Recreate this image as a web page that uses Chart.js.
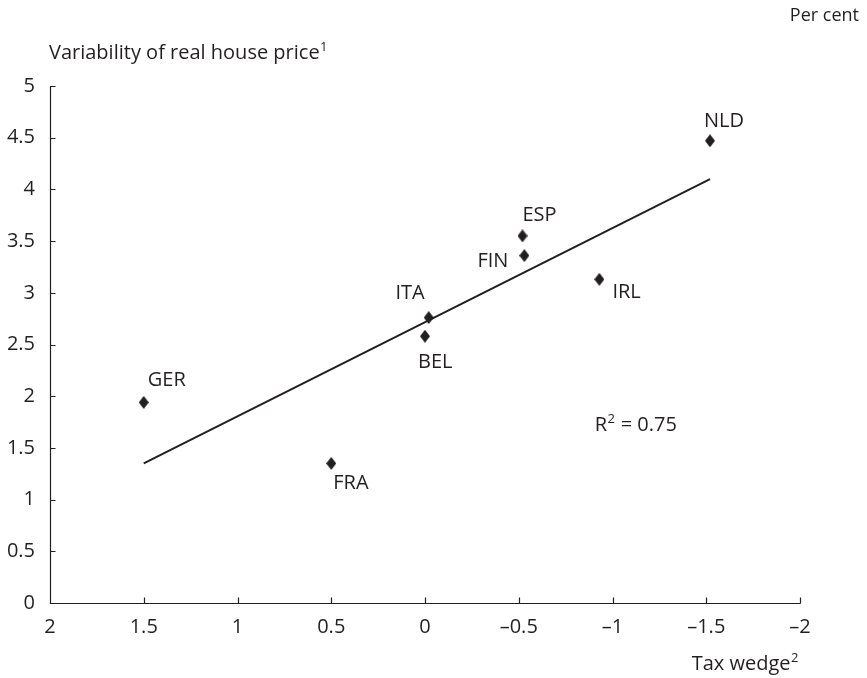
<!DOCTYPE html>
<html>
<head>
<meta charset="utf-8">
<script src="https://cdn.jsdelivr.net/npm/chart.js@4.4.1/dist/chart.umd.min.js"></script>
<style>
  html, body { margin: 0; padding: 0; background: #ffffff; }
  #wrap { width: 867px; height: 678px; position: relative; }
</style>
</head>
<body>
<div id="wrap"><canvas id="chart"></canvas></div>
<script>
// Country observations: tax wedge (x) against variability of real house prices (y)
const countries = ['GER', 'FRA', 'BEL', 'ITA', 'FIN', 'ESP', 'IRL', 'NLD'];
const taxWedge = [1.50, 0.50, 0.00, -0.02, -0.53, -0.52, -0.93, -1.52];
const priceVariability = [1.94, 1.35, 2.58, 2.76, 3.36, 3.55, 3.13, 4.47];

// Fitted regression line end points
const trendX = [1.50, -1.52];
const trendY = [1.35, 4.10];
const rSquared = '0.75';

// Axis ticks
const xTicks = [2, 1.5, 1, 0.5, 0, -0.5, -1, -1.5, -2];
const yTicks = [0, 0.5, 1, 1.5, 2, 2.5, 3, 3.5, 4, 4.5, 5];

// Label placement around each marker (pixel offsets, text alignment)
const labelPlacement = {
  GER: { dx: 4, dy: -22, align: 'left' },
  FRA: { dx: 2, dy: 20, align: 'left' },
  BEL: { dx: -7, dy: 26, align: 'left' },
  ITA: { dx: -4, dy: -24, align: 'right' },
  FIN: { dx: -16, dy: 6, align: 'right' },
  ESP: { dx: 0, dy: -21, align: 'left' },
  IRL: { dx: 13, dy: 13, align: 'left' },
  NLD: { dx: -6, dy: -20, align: 'left' }
};
const rSquaredAt = { x: -0.905, y: 1.72 };

const INK = '#231f20';
const FONT = '"Open Sans", "Noto Sans", sans-serif';
const SIZE = 20;
const SUP = 13;

// Diamond marker, a little taller than wide
function diamond(w, h) {
  const c = document.createElement('canvas');
  c.width = w; c.height = h;
  const g = c.getContext('2d');
  g.fillStyle = INK;
  g.beginPath();
  g.moveTo(w / 2, 0);
  g.lineTo(w, h / 2);
  g.lineTo(w / 2, h);
  g.lineTo(0, h / 2);
  g.closePath();
  g.fill();
  return c;
}

const points = countries.map((c, i) => ({ x: taxWedge[i], y: priceVariability[i], label: c }));
const trend = trendX.map((x, i) => ({ x: x, y: trendY[i] }));

function fmt(v) {
  const a = Math.abs(v).toString();
  return v < 0 ? '\u2013' + a : a;
}

// Text with a small raised superscript; returns total width
function supText(ctx, base, sup, rest, x, y, align) {
  ctx.font = SIZE + 'px ' + FONT;
  const wb = ctx.measureText(base).width;
  const wr = ctx.measureText(rest).width;
  ctx.font = SUP + 'px ' + FONT;
  const ws = ctx.measureText(sup).width + 1;
  const total = wb + ws + wr;
  const sx = align === 'right' ? x - total : x;
  ctx.textAlign = 'left';
  ctx.textBaseline = 'middle';
  ctx.font = SIZE + 'px ' + FONT;
  ctx.fillText(base, sx, y);
  ctx.font = SUP + 'px ' + FONT;
  ctx.fillText(sup, sx + wb + 0.5, y - 6);
  ctx.font = SIZE + 'px ' + FONT;
  ctx.fillText(rest, sx + wb + ws, y);
  return total;
}

const decorations = {
  id: 'decorations',
  afterDraw(chart) {
    const ctx = chart.ctx;
    const xs = chart.scales.x, ys = chart.scales.y;
    const area = chart.chartArea;
    ctx.save();
    ctx.strokeStyle = INK;
    ctx.fillStyle = INK;
    ctx.lineWidth = 1.2;

    // axis lines
    const x0 = Math.round(area.left) + 0.5;
    const y0 = Math.round(area.bottom) + 0.5;
    ctx.beginPath();
    ctx.moveTo(x0, Math.round(ys.getPixelForValue(5)));
    ctx.lineTo(x0, y0);
    ctx.lineTo(Math.round(xs.getPixelForValue(-2)) + 0.5, y0);
    ctx.stroke();

    // inward tick marks
    ctx.beginPath();
    yTicks.forEach(v => {
      if (v === 0) return;
      const py = Math.round(ys.getPixelForValue(v)) + 0.5;
      ctx.moveTo(x0, py); ctx.lineTo(x0 + 5, py);
    });
    xTicks.forEach(v => {
      if (v === 2) return;
      const px = Math.round(xs.getPixelForValue(v)) + 0.5;
      ctx.moveTo(px, y0); ctx.lineTo(px, y0 - 6);
    });
    ctx.stroke();

    // country labels
    ctx.font = SIZE + 'px ' + FONT;
    ctx.textBaseline = 'middle';
    points.forEach(p => {
      const pl = labelPlacement[p.label];
      ctx.textAlign = pl.align;
      ctx.fillText(p.label, xs.getPixelForValue(p.x) + pl.dx, ys.getPixelForValue(p.y) + pl.dy);
    });

    // goodness of fit
    supText(ctx, 'R', '2', ' = ' + rSquared,
      xs.getPixelForValue(rSquaredAt.x), ys.getPixelForValue(rSquaredAt.y), 'left');

    // titles
    supText(ctx, 'Variability of real house price', '1', '', 49, 53, 'left');
    supText(ctx, 'Tax wedge', '2', '', 799, 664, 'right');
    ctx.font = '18px ' + FONT;
    ctx.textAlign = 'right';
    ctx.textBaseline = 'middle';
    ctx.fillText('Per cent', 859, 16);
    ctx.restore();
  }
};

new Chart(document.getElementById('chart'), {
  type: 'scatter',
  data: {
    datasets: [
      {
        label: 'Countries',
        data: points,
        pointStyle: diamond(10, 13),
        pointRadius: 6,
        pointHoverRadius: 6,
        backgroundColor: INK,
        borderColor: INK,
        borderWidth: 0,
        order: 1
      },
      {
        label: 'Trend',
        type: 'line',
        data: trend,
        borderColor: INK,
        borderWidth: 2,
        pointRadius: 0,
        fill: false,
        order: 2
      }
    ]
  },
  options: {
    responsive: true,
    maintainAspectRatio: false,
    animation: false,
    events: [],
    layout: { padding: { top: 86, right: 67, left: 0, bottom: 0 } },
    plugins: { legend: { display: false }, tooltip: { enabled: false } },
    scales: {
      x: {
        type: 'linear',
        min: -2, max: 2,
        reverse: true,
        grid: { display: false, drawTicks: false },
        border: { display: false },
        afterBuildTicks: s => { s.ticks = xTicks.map(v => ({ value: v })); },
        afterFit: s => { s.height = 75; },
        ticks: {
          padding: 12,
          color: INK,
          font: { family: FONT, size: SIZE },
          maxRotation: 0,
          callback: v => fmt(v)
        }
      },
      y: {
        type: 'linear',
        min: 0, max: 5,
        grid: { display: false, drawTicks: false },
        border: { display: false },
        afterBuildTicks: s => { s.ticks = yTicks.map(v => ({ value: v })); },
        afterFit: s => { s.width = 50; },
        ticks: {
          padding: 15,
          color: INK,
          font: { family: FONT, size: SIZE },
          callback: v => fmt(v)
        }
      }
    }
  },
  plugins: [decorations]
});
</script>
</body>
</html>
